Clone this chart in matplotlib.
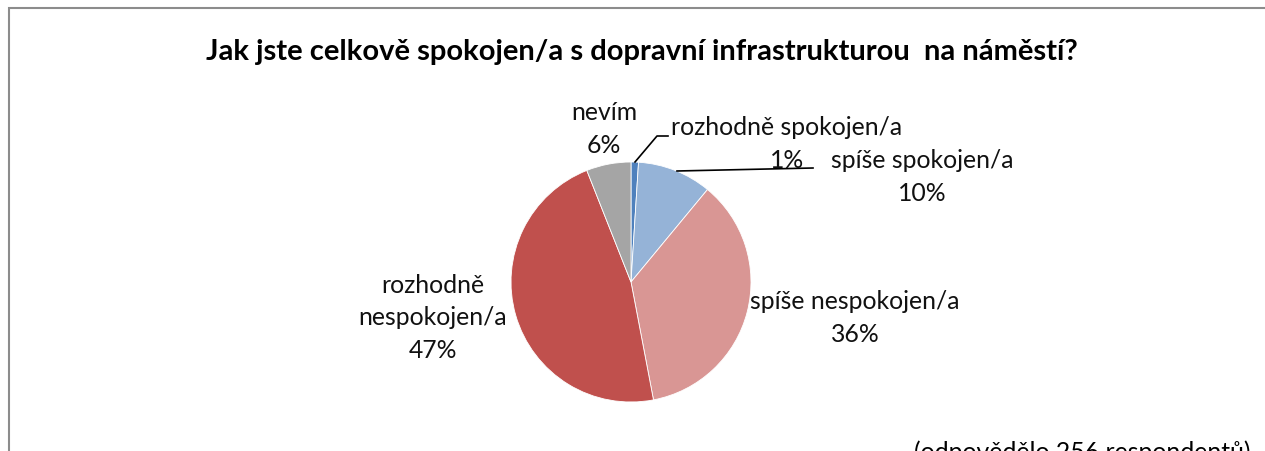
import numpy as np
import matplotlib.pyplot as plt
from matplotlib.patches import Rectangle

plt.rcParams['font.family'] = ['Lato', 'DejaVu Sans']

labels = ['rozhodně spokojen/a', 'spíše spokojen/a', 'spíše nespokojen/a',
          'rozhodně\nnespokojen/a', 'nevím']
values = [1, 10, 36, 47, 6]
colors = ['#4F81BD', '#95B3D7', '#D99694', '#C0504D', '#A5A5A5']
title = 'Jak jste celkově spokojen/a s dopravní infrastrukturou  na náměstí?'
note = '(odpovědělo 256 respondentů)'

W, H = 1265, 452
cx, cy, r = 631, 283, 120  # pie centre / radius in pixels

fig = plt.figure(figsize=(W / 100, H / 100), dpi=100)
ax = fig.add_axes([0, 0, 1, 1])

wedges, _ = ax.pie(values, colors=colors, startangle=90, counterclock=False,
                   radius=1, wedgeprops=dict(edgecolor='white', linewidth=0.6),
                   frame=True)
ax.set_xlim(-cx / r, (W - cx) / r)
ax.set_ylim(-(H - cy) / r, cy / r)
ax.set_aspect('auto')
ax.axis('off')


def px(x, y):
    return ((x - cx) / r, (cy - y) / r)


fs = 17.8
# label positions (pixel coordinates of text centre)
pos = [(787, 144), (922, 177), (855, 318), (433, 318), (604, 129)]
for lab, v, (x, y) in zip(labels, values, pos):
    ax.text(*px(x, y), f'{lab}\n{v}%', ha='center', va='center',
            fontsize=fs, linespacing=1.5, color='#111111')

# leader lines
ax.plot(*zip(px(635, 163), px(657, 137), px(668, 137)), color='black', lw=1.2)
ax.plot(*zip(px(677, 172), px(813, 169)), color='black', lw=1.2)

fig.text(642 / W, 1 - 52 / H, title, ha='center', va='center',
         fontsize=21, fontweight='bold')
fig.text(1250 / W, 1 - 452 / H, note, ha='right', va='center', fontsize=fs)

fig.patches.append(Rectangle((8.5 / W, -0.2), 1.2, 1 - 8.5 / H + 0.2,
                             transform=fig.transFigure, fill=False,
                             edgecolor='#8c8c8c', linewidth=1.5))

fig.savefig('out.png', dpi=100)
